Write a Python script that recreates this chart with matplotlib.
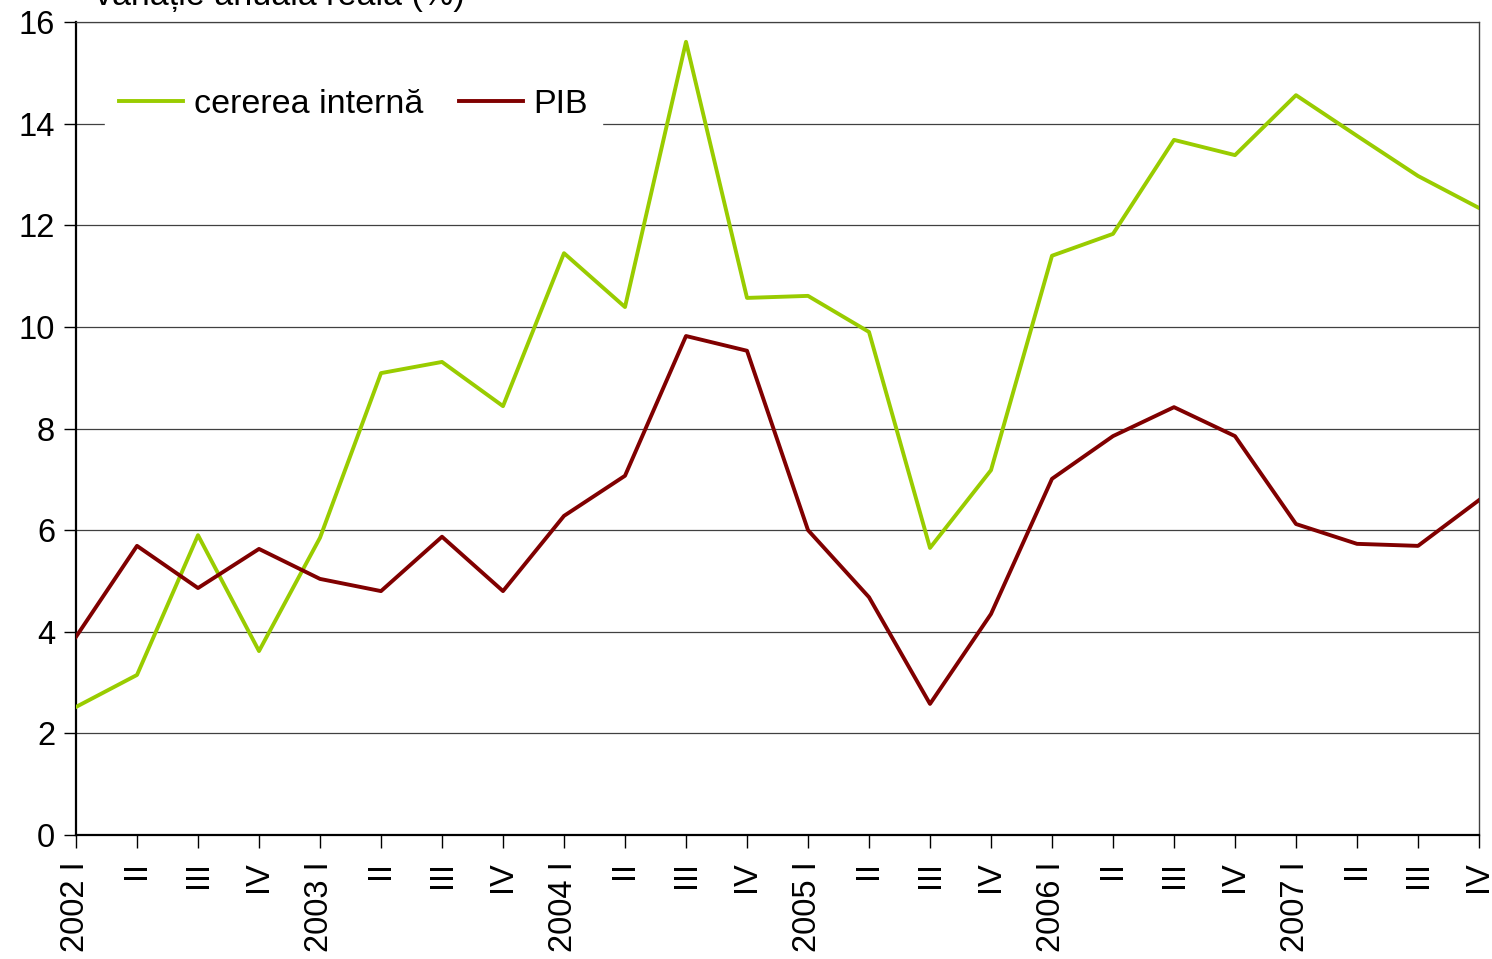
import matplotlib
matplotlib.use("Agg")
import matplotlib.pyplot as plt

plt.rcParams['font.family'] = ['Liberation Sans', 'DejaVu Sans']

quarters = ["2002 I", "II", "III", "IV", "2003 I", "II", "III", "IV",
            "2004 I", "II", "III", "IV", "2005 I", "II", "III", "IV",
            "2006 I", "II", "III", "IV", "2007 I", "II", "III", "IV"]
cererea_interna = [2.52, 3.15, 5.90, 3.62, 5.85, 9.09, 9.31, 8.44,
                   11.45, 10.39, 15.61, 10.57, 10.61, 9.90, 5.65, 7.18,
                   11.40, 11.83, 13.68, 13.38, 14.56, 13.76, 12.97, 12.34]
pib = [3.90, 5.69, 4.86, 5.63, 5.04, 4.80, 5.87, 4.80,
       6.28, 7.07, 9.82, 9.53, 6.00, 4.68, 2.58, 4.35,
       7.01, 7.85, 8.42, 7.85, 6.12, 5.73, 5.69, 6.59]
yticks = [0, 2, 4, 6, 8, 10, 12, 14, 16]

fig = plt.figure(figsize=(14.92, 9.59), dpi=100)
ax = fig.add_axes([76/1492, 1-835/959, (1479-76)/1492, (835-22)/959])

x = list(range(len(quarters)))
ax.plot(x, cererea_interna, color='#99CC00', lw=2.8, label='cererea internă', zorder=3)
ax.plot(x, pib, color='#800000', lw=2.8, label='PIB', zorder=3)

ax.set_xlim(0, len(quarters)-1)
ax.set_ylim(0, 16)
ax.set_yticks(yticks)
ax.set_yticklabels([str(v) for v in yticks], fontsize=23.5)
ax.set_xticks(x)
ax.set_xticklabels(quarters, rotation=90, fontsize=23.5, va='top', ha='center')
ax.yaxis.grid(True, color='#404040', lw=0.9)
ax.set_axisbelow(True)
for s in ['left', 'bottom']:
    ax.spines[s].set_linewidth(1.6)
    ax.spines[s].set_color('black')
ax.spines['top'].set_color('#404040')
ax.spines['top'].set_linewidth(0.9)
ax.spines['right'].set_color('#404040')
ax.spines['right'].set_linewidth(1.0)
ax.tick_params(axis='both', length=9, width=1.0, colors='black', pad=6)
ax.tick_params(axis='x', pad=10)

leg = ax.legend(loc='upper left', bbox_to_anchor=(0.0207, 0.934), ncol=2, frameon=True,
                fontsize=24.5, handlelength=1.9, handletextpad=0.3, columnspacing=1.05,
                borderpad=0.4, borderaxespad=0.0)
leg.get_frame().set_facecolor('white')
leg.get_frame().set_edgecolor('white')
leg.get_frame().set_alpha(1.0)
leg.get_frame().set_boxstyle('square', pad=0.0)
leg.set_zorder(4)

fig.text(95/1492, 1-5/959, 'variație anuală reală (%)', fontsize=24.5, va='baseline', ha='left')

fig.savefig('out.png', dpi=100)
